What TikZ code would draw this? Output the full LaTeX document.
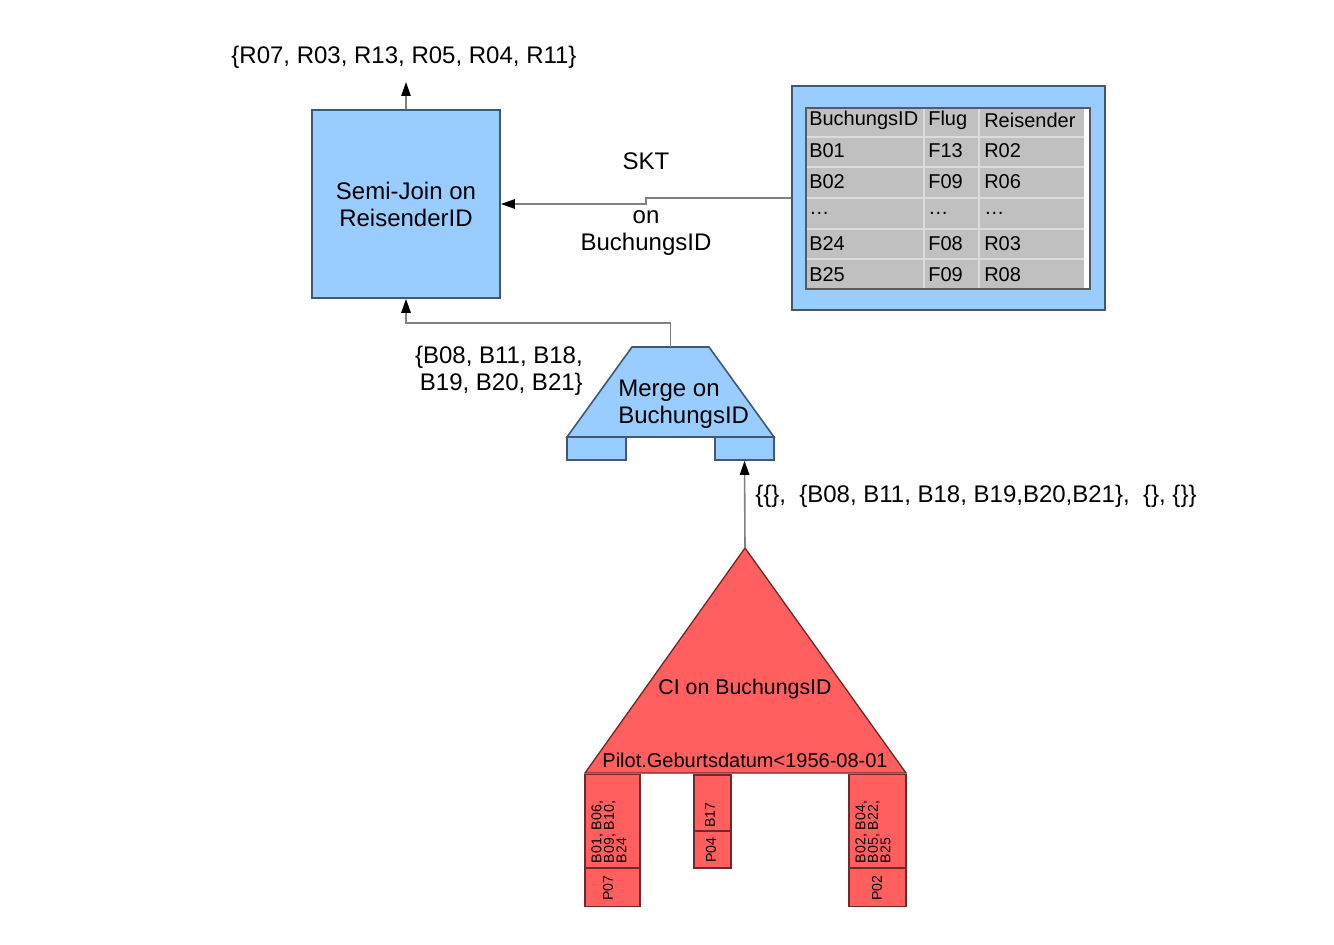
\documentclass[tikz,border=0pt]{standalone}
\usepackage{fontspec}
\setmainfont{Liberation Sans}
\usetikzlibrary{arrows.meta,shapes.geometric}
\definecolor{lblue}{HTML}{99CCFF}
\definecolor{bblue}{HTML}{3F5873}
\definecolor{lred}{HTML}{FF5F5F}
\definecolor{bred}{HTML}{6E2A2A}
\definecolor{cgray}{HTML}{808080}
\definecolor{tgray}{HTML}{C0C0C0}
\definecolor{tline}{HTML}{DCDCDC}
\tikzset{
  bluebox/.style={draw=bblue, fill=lblue, line width=1.2pt, inner sep=0pt},
  redbox/.style={draw=bred, fill=lred, line width=1pt, inner sep=0pt},
  conn/.style={draw=cgray, line width=1.2pt},
  tip/.style={-{Triangle[length=10.5pt,width=7pt,fill=black,color=black]}},
  big/.style={font=\fontsize{18}{20.25}\selectfont, inner sep=0pt},
  tbl/.style={font=\fontsize{15}{18}\selectfont, inner sep=0pt, anchor=west},
  small/.style={font=\fontsize{10.6}{9.4}\selectfont, inner sep=0pt, rotate=90, align=left},
}
\begin{document}
\begin{tikzpicture}[x=0.75pt,y=-0.75pt]
\useasboundingbox (0,0) rectangle (1334,945);

% Semi-join box
\node[bluebox, minimum width=141pt, minimum height=141pt] (sj) at (406,204) {};
\node[big, align=center] (sjt) at (406,204) {Semi-Join on\\ReisenderID};
\coordinate (res) at (406,82);
\draw[conn,tip] (sj.north) -- (res);
\node[big] (reslab) at (404,57) {\{R07, R03, R13, R05, R04, R11\}};

% Table box
\node[bluebox, minimum width=234.75pt, minimum height=168pt] (tb) at (948.5,198) {};
\fill[tgray] (806,108) rectangle (1090,289);
\fill[white] (1084,108) rectangle (1090,289);
\foreach \yy in {137,167,198,229,259} {\draw[tline, line width=1pt] (806,\yy) -- (1084,\yy);}
\foreach \xx in {924,979} {\draw[tline, line width=1pt] (\xx,108) -- (\xx,289);}
\draw[cgray!70!black, line width=1.2pt] (806,108) rectangle (1090,289);
\node[tbl] (h1) at (809,120) {BuchungsID};
\node[tbl] (h2) at (928,120) {Flug};
\node[tbl] (h3) at (984,120) {Reisender};
\node[tbl] (a1) at (809,151) {B01};
\node[tbl] (a2) at (928,151) {F13};
\node[tbl] (a3) at (984,151) {R02};
\node[tbl] (b1) at (809,182) {B02};
\node[tbl] (b2) at (928,182) {F09};
\node[tbl] (b3) at (984,182) {R06};
\node[tbl] (c1) at (809,213) {\dots};
\node[tbl] (c2) at (928,213) {\dots};
\node[tbl] (c3) at (984,213) {\dots};
\node[tbl] (d1) at (809,244) {B24};
\node[tbl] (d2) at (928,244) {F08};
\node[tbl] (d3) at (984,244) {R03};
\node[tbl] (e1) at (809,275) {B25};
\node[tbl] (e2) at (928,275) {F09};
\node[tbl] (e3) at (984,275) {R08};

\draw[conn,tip] (tb.west) -- (646,198) -- (646,204) -- (sj.east);
\node[big] (skt) at (646,161) {SKT};
\node[big, align=center] (onb) at (646,233) {on\\BuchungsID};

% Merge trapezoid
\coordinate (mtop) at (670.5,347);
\draw[bluebox] (632,347) -- (709,347) -- (774,437) -- (567,437) -- cycle;
\node[bluebox, minimum width=44.25pt, minimum height=17.25pt] (ml) at (596.5,448.5) {};
\node[bluebox, minimum width=44.25pt, minimum height=17.25pt] (mr) at (744.5,448.5) {};
\node[big, align=left, anchor=west] (mt) at (618,404) {Merge on\\BuchungsID};
\draw[conn,tip] (mtop) -- (670.5,323) -- (406,323) -- (sj.south);
\node[big, align=right, anchor=east] (blab) at (583,371) {\{B08, B11, B18,\\B19, B20, B21\}};

% CI triangle
\coordinate (apex) at (745,548);
\coordinate (bl) at (585,773);
\coordinate (br) at (906,773);
\draw[redbox] (apex) -- (br) -- (bl) -- cycle;
\node[big, font=\fontsize{16}{18}\selectfont] (cit) at (745,689) {CI on BuchungsID};
\node[big, font=\fontsize{15}{18}\selectfont] (pil) at (745,760) {Pilot.Geburtsdatum<1956-08-01};
\draw[conn,tip] (apex) -- (mr.south);
\node[big, anchor=west] (clab) at (755,496) {\{\{\},\ \ \{B08, B11, B18, B19,B20,B21\},\ \ \{\}, \{\}\}};

% leaf boxes
\node[redbox, minimum width=41.25pt, minimum height=69.75pt] (l1) at (612.5,821) {};
\node[redbox, minimum width=41.25pt, minimum height=28.5pt] (l2) at (612.5,887.5) {};
\node[redbox, minimum width=27.75pt, minimum height=42pt] (m1) at (712.5,803) {};
\node[redbox, minimum width=27.75pt, minimum height=27.75pt] (m2) at (712.5,849.5) {};
\node[redbox, minimum width=42.75pt, minimum height=69.75pt] (r1) at (877.5,821) {};
\node[redbox, minimum width=42.75pt, minimum height=28.5pt] (r2) at (877.5,887.5) {};
\node[small] (l1t) at (609,832) {B01, B06,\\B09, B10,\\B24};
\node[small] (l2t) at (608,888) {P07};
\node[small] (m1t) at (710,815) {B17};
\node[small] (m2t) at (711,850) {P04};
\node[small] (r1t) at (873,832) {B02, B04,\\B05, B22,\\B25};
\node[small] (r2t) at (877,888) {P02};
\end{tikzpicture}
\end{document}
